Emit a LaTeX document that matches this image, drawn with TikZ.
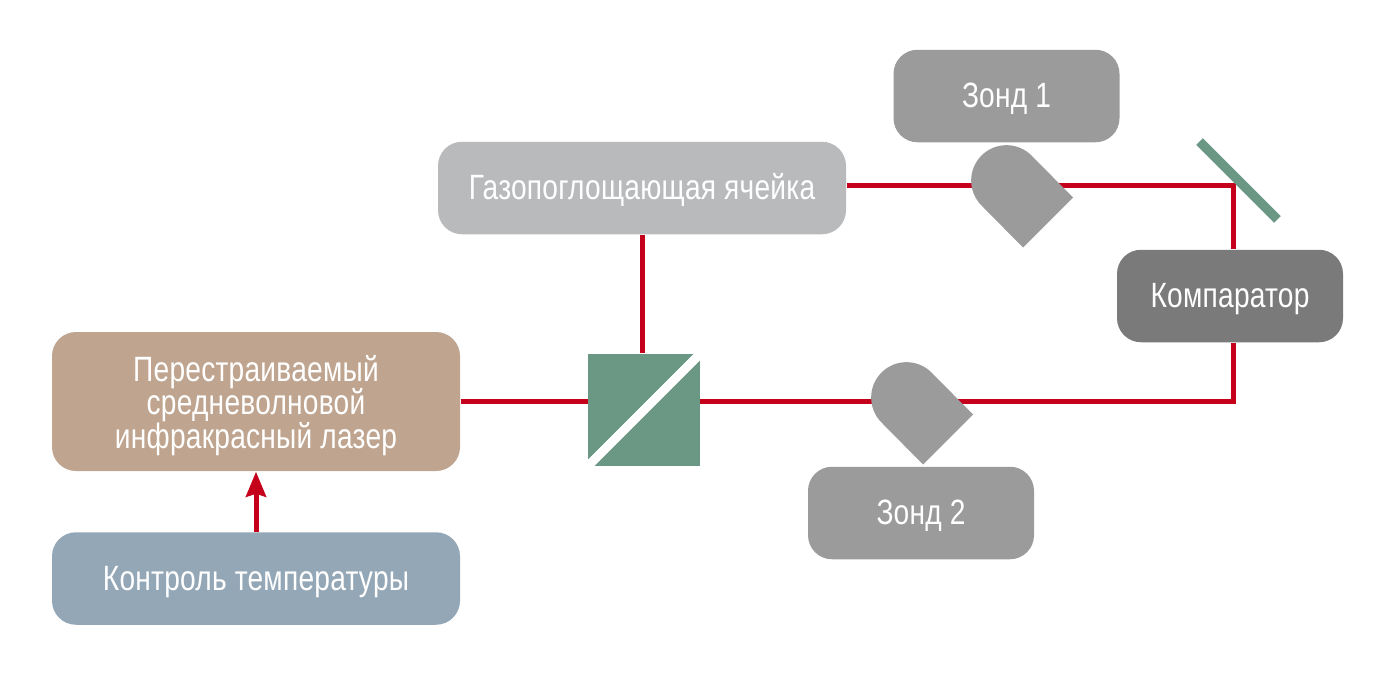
\documentclass[tikz,border=0pt]{standalone}
\usepackage{fontspec}
\setmainfont[FakeStretch=0.8,LetterSpace=0.7]{Liberation Sans}
\usetikzlibrary{arrows.meta,backgrounds}

\definecolor{laserbrown}{HTML}{BFA58F}
\definecolor{controlblue}{HTML}{94A7B7}
\definecolor{celllight}{HTML}{B9BABC}
\definecolor{probegray}{HTML}{9B9B9B}
\definecolor{compdark}{HTML}{7A7A7A}
\definecolor{opticgreen}{HTML}{6B9785}
\definecolor{beamred}{HTML}{C4001A}

\tikzset{
    unit/.style={rectangle, rounded corners=0.24cm, minimum width=4.08cm, minimum height=0.925cm, text=white, align=center, font=\fontsize{10}{9.4}\selectfont, inner sep=0pt, text height=0.235cm, text depth=0cm},
    smallunit/.style={unit, minimum width=2.26cm},
    beam/.style={line width=0.05cm, beamred},
    pics/detector/.style={code={
        \fill[probegray] (0.665,-0.17) -- (0.25,0.25) arc (45:225:0.3535) -- (0.165,-0.67) -- cycle;
    }}
}

\begin{document}
\begin{tikzpicture}[>={Stealth[length=0.25cm,width=0.2cm,inset=0.03cm]}]
    \useasboundingbox (0,0) rectangle (13.92,6.8);

    \node[unit, fill=laserbrown, minimum height=1.39cm, text height=0.93cm] (laser) at (2.56,2.785) {Перестраиваемый\\[-1pt]средневолновой\\[-1pt]инфракрасный лазер};
    \node[unit, fill=controlblue] (control) at (2.56,1.015) {Контроль температуры};
    \node[unit, fill=celllight] (cell) at (6.42,4.92) {Газопоглощающая ячейка};
    \node[smallunit, fill=probegray] (probeA) at (10.065,5.84) {Зонд 1};
    \node[smallunit, fill=probegray] (probeB) at (9.21,1.67) {Зонд 2};
    \node[smallunit, fill=compdark] (comp) at (12.30,3.84) {Компаратор};

    \node[rectangle, fill=opticgreen, minimum size=1.12cm, inner sep=0pt] (splitter) at (6.44,2.70) {};
    \draw[white, line width=0.09cm] (splitter.south west) -- (splitter.north east);

    \node[rectangle, fill=opticgreen, minimum width=1.10cm, minimum height=0.095cm, inner sep=0pt, rotate=-45] (mirror) at (12.385,4.995) {};

    \pic at (10.065,4.995) {detector};
    \pic at (9.065,2.825) {detector};

    \coordinate (turnA) at (12.33,4.945);
    \coordinate (turnB) at (12.33,2.785);

    \begin{scope}[on background layer]
        \draw[beam] (turnA -| cell.east) -- (turnA) -- (turnA |- comp.north);
        \draw[beam] (laser.east) -- (turnB) -- (turnB |- comp.south);
        \draw[beam] (cell.south) -- (cell.south |- splitter.north);
    \end{scope}

    \draw[beam, ->] (control.north) -- (laser.south);
\end{tikzpicture}
\end{document}
